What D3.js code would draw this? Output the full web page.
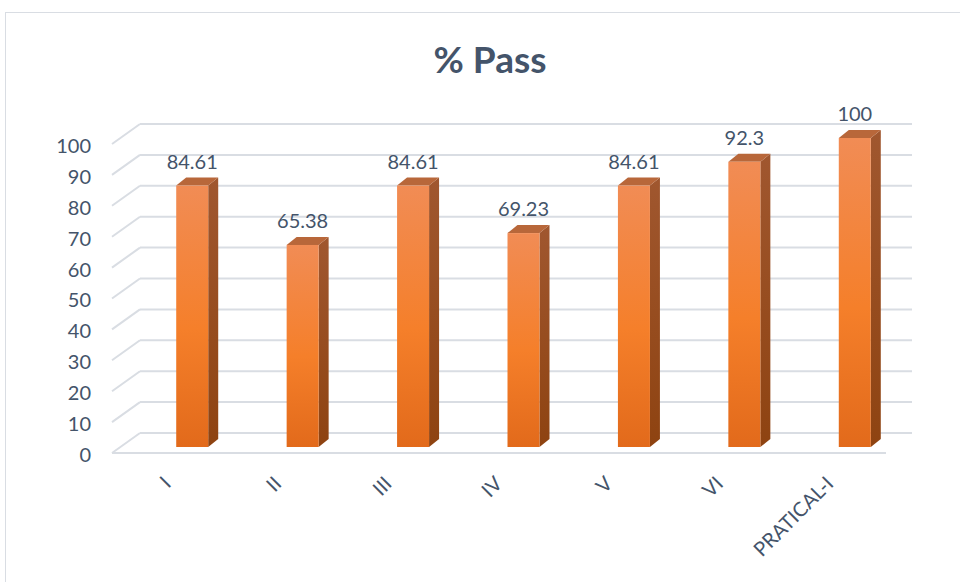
<!DOCTYPE html>
<html>
<head>
<meta charset="utf-8">
<script src="https://cdn.jsdelivr.net/npm/d3@7"></script>
<style>
  html, body { margin: 0; padding: 0; background: #fff; }
  svg { display: block; }
  text { font-family: Lato, "Open Sans", sans-serif; fill: #44546A; }
</style>
</head>
<body>
<svg id="chart" width="960" height="582"></svg>
<script>
const categories = ["I", "II", "III", "IV", "V", "VI", "PRATICAL-I"];
const passValues = [84.61, 65.38, 84.61, 69.23, 84.61, 92.3, 100];
const yTicks = [0, 10, 20, 30, 40, 50, 60, 70, 80, 90, 100];
const title = "% Pass";

const svg = d3.select("#chart");

// chart area border
svg.append("rect")
  .attr("x", 5.5).attr("y", 12.5).attr("width", 1000).attr("height", 700)
  .attr("fill", "#fff").attr("stroke", "#D9DDE3").attr("stroke-width", 1);

// title
svg.append("text")
  .attr("x", 490).attr("y", 73)
  .attr("text-anchor", "middle")
  .attr("font-size", 37).attr("font-weight", 700)
  .text(title);

// 3D geometry
const depthX = 28, depthY = -20;           // floor/back wall offset
const wallLeft = 112, wallRight = 884;     // front-plane extent
const y = d3.scaleLinear().domain([0, 100]).range([453, 144]);   // front plane

// gridlines (left side wall + back wall)
const grid = svg.append("g");
yTicks.forEach(v => {
  const yf = y(v), yb = y(v) + depthY;
  grid.append("line")
    .attr("x1", wallLeft).attr("y1", yf)
    .attr("x2", wallLeft + depthX).attr("y2", yb)
    .attr("stroke", "#D9DDE3").attr("stroke-width", 2);
  grid.append("line")
    .attr("x1", wallLeft + depthX).attr("y1", yb)
    .attr("x2", wallRight + depthX).attr("y2", yb)
    .attr("stroke", "#D9DDE3").attr("stroke-width", 2);
});
// floor front edge
grid.append("line")
  .attr("x1", wallLeft).attr("y1", y(0))
  .attr("x2", wallRight + 2).attr("y2", y(0))
  .attr("stroke", "#D9DDE3").attr("stroke-width", 2);

// y axis labels
const yAxis = d3.axisLeft(y).tickValues(yTicks).tickSize(0).tickPadding(0);
const gy = svg.append("g").attr("transform", "translate(91,2)").call(yAxis);
gy.select(".domain").remove();
gy.selectAll("text").attr("font-size", 20).style("font-family", "Lato, sans-serif").attr("fill", "#44546A");

// bars
const x = d3.scaleBand().domain(categories).range([137, 910]).paddingInner(0).paddingOuter(0);
const barW = 32, barDX = 10, barDY = -8;
const barBase = 447;                       // bar front-face base (mid-depth)
const yb = d3.scaleLinear().domain([0, 100]).range([barBase, barBase - 309]);

const defs = svg.append("defs");
const gFront = defs.append("linearGradient").attr("id", "gFront").attr("x1", 0).attr("y1", 0).attr("x2", 0).attr("y2", 1);
gFront.append("stop").attr("offset", 0).attr("stop-color", "#F18C55");
gFront.append("stop").attr("offset", 0.55).attr("stop-color", "#F57F2A");
gFront.append("stop").attr("offset", 1).attr("stop-color", "#E26A1B");
const gSide = defs.append("linearGradient").attr("id", "gSide").attr("x1", 0).attr("y1", 0).attr("x2", 0).attr("y2", 1);
gSide.append("stop").attr("offset", 0).attr("stop-color", "#A0572F");
gSide.append("stop").attr("offset", 1).attr("stop-color", "#8E4311");

const bars = svg.append("g").selectAll("g").data(categories).join("g");
bars.each(function(c, i) {
  const g = d3.select(this);
  const v = passValues[i];
  const x0 = x(c) + (x.bandwidth() - barW) / 2;
  const x1 = x0 + barW;
  const yt = yb(v), ybt = yb(0);
  // side face
  g.append("path")
    .attr("d", `M${x1},${yt} L${x1 + barDX},${yt + barDY} L${x1 + barDX},${ybt + barDY} L${x1},${ybt} Z`)
    .attr("fill", "url(#gSide)");
  // top face
  g.append("path")
    .attr("d", `M${x0},${yt} L${x0 + barDX},${yt + barDY} L${x1 + barDX},${yt + barDY} L${x1},${yt} Z`)
    .attr("fill", "#B8673A");
  // front face
  g.append("rect")
    .attr("x", x0).attr("y", yt).attr("width", barW).attr("height", ybt - yt)
    .attr("fill", "url(#gFront)");
  // data label
  g.append("text")
    .attr("x", x0 + barW / 2).attr("y", yt - 17)
    .attr("text-anchor", "middle").attr("font-size", 20)
    .text(v);
  // category label
  g.append("text")
    .attr("transform", `translate(${x0 + barW / 2 - 20},485) rotate(-45)`)
    .attr("text-anchor", "end").attr("font-size", 20)
    .text(c);
});
</script>
</body>
</html>
